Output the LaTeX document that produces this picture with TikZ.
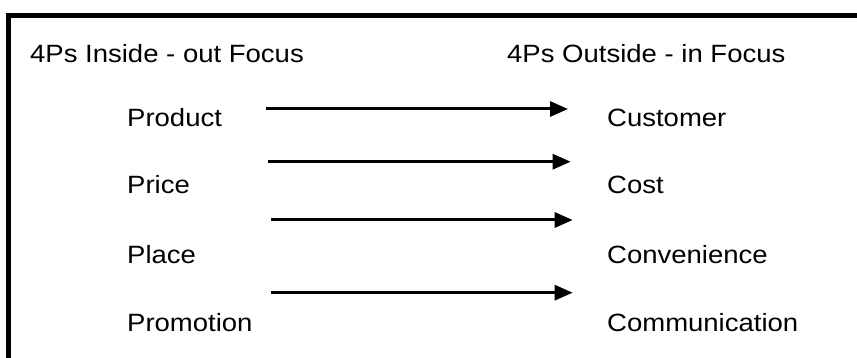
\documentclass[tikz,border=0pt]{standalone}
\usepackage{fontspec}
\setmainfont{Liberation Sans}[FakeStretch=1.1]
\usetikzlibrary{arrows.meta}

\begin{document}
\begin{tikzpicture}[
    x=1pt, y=-1pt,
    lbl/.style={
        anchor=base west, inner sep=0pt,
        font=\fontsize{25}{30}\selectfont
    },
    arr/.style={-{Triangle[length=18pt,width=15pt]}, line width=3pt, black},
    frame/.style={draw=black, line width=5pt},
]
\useasboundingbox (0,0) rectangle (857,358);

% Frame (runs off the right and bottom edges)
\draw[frame] (8.5,380) -- (8.5,15.5) -- (880,15.5);

% Headings
\node[lbl] (inside) at (30,63) {4Ps Inside - out Focus};
\node[lbl] (outside) at (507,63) {4Ps Outside - in Focus};

% Left column
\node[lbl] (product) at (127,127) {Product};
\node[lbl] (price) at (127,194) {Price};
\node[lbl] (place) at (127,263) {Place};
\node[lbl] (promotion) at (127,331) {Promotion};

% Right column
\node[lbl] (customer) at (607,127) {Customer};
\node[lbl] (cost) at (607,194) {Cost};
\node[lbl] (convenience) at (607,263) {Convenience};
\node[lbl] (communication) at (607,331) {Communication};

% Arrow ends
\coordinate (a1) at (266,109);
\coordinate (b1) at (568,109);
\coordinate (a2) at (268,161.7);
\coordinate (b2) at (570.7,161.7);
\coordinate (a3) at (270.7,220);
\coordinate (b3) at (572.7,220);
\coordinate (a4) at (270.7,292.7);
\coordinate (b4) at (572.7,292.7);

% Arrows
\draw[arr] (a1) -- (b1);
\draw[arr] (a2) -- (b2);
\draw[arr] (a3) -- (b3);
\draw[arr] (a4) -- (b4);

\end{tikzpicture}
\end{document}
